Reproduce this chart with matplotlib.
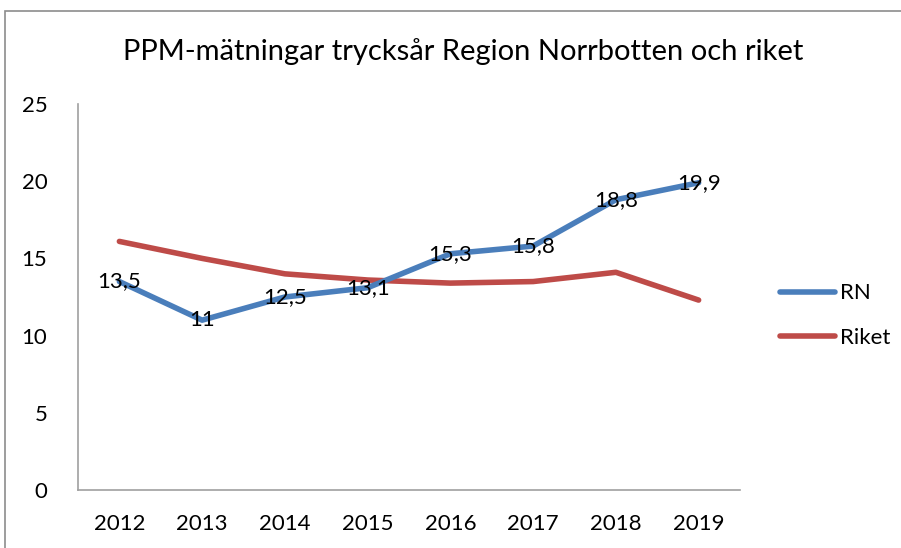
import matplotlib
matplotlib.use("Agg")
import matplotlib.pyplot as plt
from matplotlib.patches import Rectangle

years = ["2012", "2013", "2014", "2015", "2016", "2017", "2018", "2019"]
rn = [13.5, 11, 12.5, 13.1, 15.3, 15.8, 18.8, 19.9]
riket = [16.1, 15.0, 14.0, 13.6, 13.4, 13.5, 14.1, 12.3]
rn_labels = ["13,5", "11", "12,5", "13,1", "15,3", "15,8", "18,8", "19,9"]

plt.rcParams["font.family"] = ["Lato", "DejaVu Sans"]

fig = plt.figure(figsize=(9.01, 5.48), dpi=100)
ax = fig.add_axes([78 / 901, 1 - 490 / 548, (740 - 78) / 901, (490 - 104) / 548])

# outer chart frame
fig.patches.append(Rectangle((5 / 901, -0.1), 1.1, 1 - 11 / 548 + 0.1, transform=fig.transFigure,
                             fill=False, edgecolor="#8c8c8c", linewidth=1.2))

x = list(range(len(years)))
ax.plot(x, rn, color="#4A7EBB", linewidth=4, solid_capstyle="round", label="RN", zorder=3)
ax.plot(x, riket, color="#BE4B48", linewidth=4, solid_capstyle="round", label="Riket", zorder=2)
for xi, v, lbl in zip(x, rn, rn_labels):
    ax.text(xi, v, lbl, ha="center", va="center", fontsize=16, color="black", zorder=4)

ax.set_xlim(-0.5, 7.5)
ax.set_ylim(0, 25)
ax.set_yticks([0, 5, 10, 15, 20, 25])
ax.set_xticks(x)
ax.set_xticklabels(years)
ax.tick_params(axis="y", length=0, pad=22, labelsize=16)
ax.tick_params(axis="x", length=0, pad=17, labelsize=16)
for s in ["top", "right"]:
    ax.spines[s].set_visible(False)
for s in ["left", "bottom"]:
    ax.spines[s].set_color("#a0a0a0")
    ax.spines[s].set_linewidth(1.2)

fig.text(463 / 901, 1 - 52 / 548, "PPM-mätningar trycksår Region Norrbotten och riket",
         ha="center", va="center", fontsize=21)

ax.legend(loc="center left", bbox_to_anchor=(1.03, 0.452), frameon=False, fontsize=16,
          handlelength=2.5, handletextpad=0.2, labelspacing=1.1)

fig.savefig("out.png", dpi=100)
